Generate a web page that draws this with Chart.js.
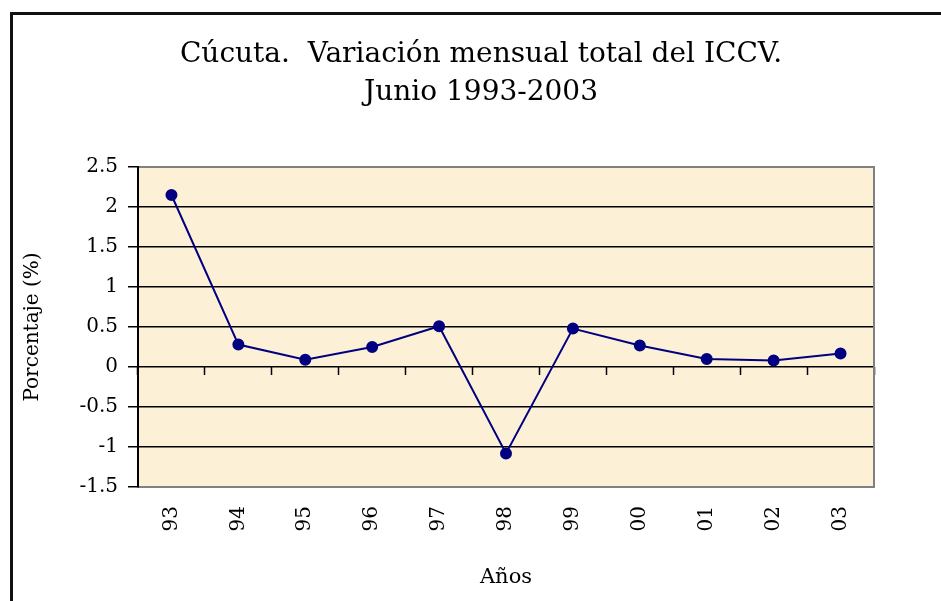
<!DOCTYPE html>
<html>
<head>
<meta charset="utf-8">
<script src="https://cdn.jsdelivr.net/npm/chart.js@4.4.0/dist/chart.umd.min.js"></script>
<style>
  body { margin: 0; background: #fff; }
  .frame {
    position: absolute;
    left: 10px;
    top: 12px;
    width: 1000px;
    height: 700px;
    border-left: 3px solid #111;
    border-top: 3px solid #111;
    pointer-events: none;
  }
  canvas { position: absolute; left: 0; top: 0; }
</style>
</head>
<body>
<canvas id="iccvChart" width="941" height="601"></canvas>
<div class="frame"></div>
<script>
// data
const years = ["93", "94", "95", "96", "97", "98", "99", "00", "01", "02", "03"];
const variacion = [2.15, 0.28, 0.09, 0.25, 0.51, -1.08, 0.48, 0.27, 0.1, 0.08, 0.17];
const yTicks = [-1.5, -1, -0.5, 0, 0.5, 1, 1.5, 2, 2.5];

const titleLines = ["Cúcuta.  Variación mensual total del ICCV.", "Junio 1993-2003"];

const serif = "'DejaVu Serif', 'Liberation Serif', serif";
const lineColor = "#000080";
const plotBg = "rgb(252,240,214)";
const edgeGray = "rgb(128,128,128)";

// fills the plot area like the parchment background
const plotBackground = {
  id: "plotBackground",
  beforeDraw(chart) {
    const { ctx, chartArea } = chart;
    ctx.save();
    ctx.fillStyle = plotBg;
    ctx.fillRect(chartArea.left, chartArea.top, chartArea.width, chartArea.height);
    ctx.restore();
  },
};

const ctx = document.querySelector("#iccvChart");

new Chart(ctx, {
  type: "line",
  data: {
    labels: years,
    datasets: [
      {
        data: variacion,
        borderColor: lineColor,
        borderWidth: 2,
        backgroundColor: lineColor,
        pointBackgroundColor: lineColor,
        pointBorderColor: lineColor,
        pointRadius: 5,
        tension: 0,
        clip: false,
        xAxisID: "x",
        yAxisID: "y",
      },
    ],
  },
  options: {
    responsive: false,
    animation: false,
    layout: {
      padding: { top: 14, left: 21, right: 0, bottom: 6 },
    },
    plugins: {
      legend: { display: false },
      tooltip: { enabled: false },
      title: {
        display: true,
        text: titleLines,
        color: "#000",
        font: { family: serif, size: 28, weight: "normal", lineHeight: 38 / 28 },
        padding: { top: 22, bottom: 55 },
      },
    },
    scales: {
      x: {
        type: "category",
        position: "bottom",
        offset: true,
        grid: { display: false },
        border: { display: true, color: edgeGray, width: 2 },
        ticks: {
          color: "#000",
          font: { family: serif, size: 20 },
          minRotation: 90,
          maxRotation: 90,
          autoSkip: false,
          padding: 11,
        },
        title: {
          display: true,
          text: "Años",
          color: "#000",
          font: { family: serif, size: 21 },
          padding: { top: 0, bottom: 5 },
        },
        afterFit(scale) {
          scale.height = 108;
        },
      },
      // tick marks along the zero line
      x2: {
        type: "category",
        position: { y: 0 },
        offset: true,
        grid: {
          display: true,
          offset: true,
          drawOnChartArea: false,
          drawTicks: true,
          tickLength: 8,
          tickColor: "#000",
          tickWidth: 1.5,
        },
        border: { display: false },
        ticks: { display: false },
      },
      xTop: {
        type: "category",
        position: "top",
        offset: true,
        grid: { display: false },
        border: { display: true, color: edgeGray, width: 2 },
        ticks: { display: false },
        afterFit(scale) {
          scale.height = 0;
        },
      },
      y: {
        type: "linear",
        position: "left",
        min: -1.5,
        max: 2.5,
        afterBuildTicks(scale) {
          scale.ticks = yTicks.map((v) => ({ value: v }));
        },
        grid: {
          color: (c) =>
            c.tick && (c.tick.value === 2.5 || c.tick.value === -1.5) ? "rgba(0,0,0,0)" : "#000",
          lineWidth: 1.5,
          tickColor: "#000",
          tickLength: 10,
        },
        border: { display: true, color: "#000", width: 2 },
        ticks: {
          color: "#000",
          font: { family: serif, size: 20 },
          padding: 10,
          callback: (v) => String(v),
        },
        title: {
          display: true,
          text: "Porcentaje (%)",
          color: "#000",
          font: { family: serif, size: 20 },
          padding: 0,
        },
        afterFit(scale) {
          scale.width = 117;
        },
      },
      yRight: {
        type: "linear",
        position: "right",
        grid: { display: false },
        border: { display: true, color: edgeGray, width: 2 },
        ticks: { display: false },
        afterFit(scale) {
          scale.width = 67;
        },
      },
    },
  },
  plugins: [plotBackground],
});
</script>
</body>
</html>
